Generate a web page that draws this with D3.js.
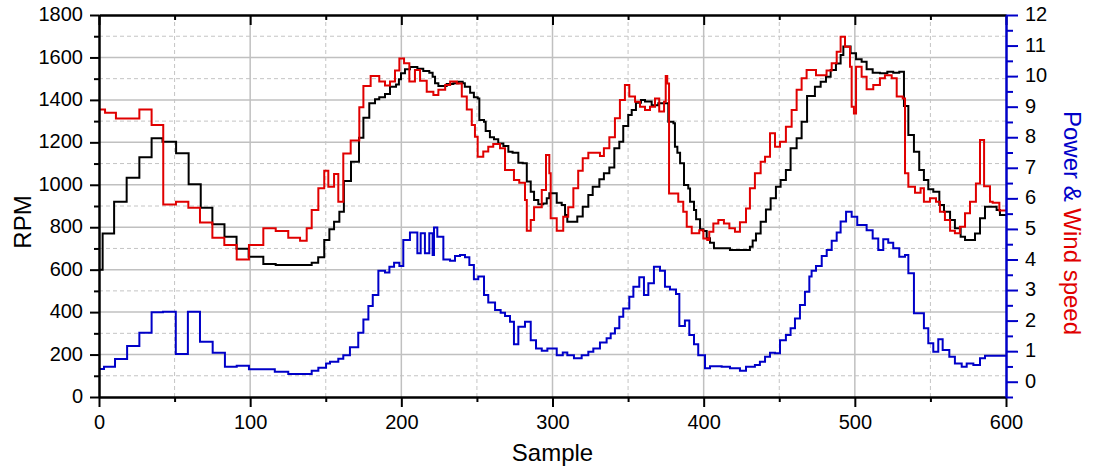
<!DOCTYPE html>
<html><head><meta charset="utf-8">
<script src="https://cdn.jsdelivr.net/npm/d3@7/dist/d3.min.js"></script>
<style>
html,body{margin:0;padding:0;background:#fff;}
svg{display:block;font-family:"Liberation Sans",Arial,sans-serif;}
</style></head>
<body>
<svg id="chart" width="1101" height="467"></svg>
<script>
// ---- Data ----
const rpmX = [0,2.4,10,18.3,26.7,34.8,42,51,59.3,67.3,75,83,91,99,108.7,116.9,140.7,145,149,152.4,155.5,159,162,166.7,172,174.9,178.8,182.6,185.4,189.2,192.5,196.5,198.4,199.8,202.4,205.7,210.6,214.5,218.5,220.7,222.3,224.5,230,234.4,237.7,240.6,242,245.5,248,250.5,251.6,254.7,255.8,258.6,261.3,264.1,267.5,270.8,273.6,277.4,280.3,283,285.6,287.8,290.6,293.9,296.2,297.9,302.8,306.1,308.3,309.8,316.4,320,323.7,326.6,331,334,337.6,340.9,344.2,346.8,350.1,352.4,355.2,358.5,361.2,365.6,370,376.6,380,381,382.6,384.4,387,389.8,391,393.6,395,397.6,399.8,402,404.2,406.8,417.4,430.6,432.4,434.6,437.7,441.2,444.3,447.8,450.9,454.4,457.5,461.5,464.8,468.4,473.6,477.4,480.9,484,487.5,490.6,492.4,497.2,500.8,504.5,507.8,511.8,516.6,521.5,525.4,529.4,532.5,535.4,539.1,542.6,545.7,548.6,551.9,555.9,559,563,566.2,570,572.9,579.5,582.8,586.1,593.8,596,600];
const rpmY = [600,770,920,1033,1130,1219,1203,1148,1002,892,814,755,699,661,627,622,633,658,740,790,826,873,1018,1109,1222,1316,1384,1403,1412,1428,1462,1473,1497,1525,1544,1555,1547,1536,1528,1509,1478,1465,1475,1478,1486,1478,1462,1434,1412,1407,1305,1297,1253,1224,1214,1195,1183,1156,1151,1104,1101,1015,967,928,908,912,936,960,915,905,858,826,850,897,952,991,1026,1054,1082,1172,1203,1277,1329,1352,1387,1400,1392,1375,1384,1297,1290,1179,1151,1101,999,983,920,881,837,790,782,748,727,701,693,708,737,771,826,884,936,991,1023,1070,1172,1219,1297,1418,1462,1486,1509,1541,1572,1612,1651,1620,1591,1580,1544,1528,1525,1533,1528,1533,1371,1235,1156,1070,1023,979,967,905,873,834,795,755,740,771,842,897,881,858,858];

const windX = [0,4,11.2,26.7,34.8,42.5,50.9,59.1,66.8,75,82.9,91.1,99.2,108.7,116.9,125.2,133,137.4,140.7,145.1,149,151.7,155.5,158.3,161.6,166.5,172.2,174.9,179.7,185.4,189.2,192.5,195.8,198.7,201.8,205.3,209,212.4,216.8,221.2,224.5,229,232.3,236.7,240,243.3,246.6,248.7,250.5,254.2,257.5,260.8,265.3,268.6,274.5,278,281.8,283,285.6,287.8,292.9,295.7,297.9,298.8,302.8,307.1,310.4,313.8,317,320,323.7,331.4,334,337.6,341.3,344.6,347.9,350.8,354.6,357.9,361.2,364.5,367.8,370.6,373.8,374.9,375.9,377.1,383.2,386.5,388.8,392.1,397.1,399.8,402.4,403.7,406.4,409.7,413.4,417,420.7,424,428,430.6,433.9,437.7,440.6,443.9,447.2,450.5,454.4,458.2,461.5,464.8,468.1,474.3,481.3,484.7,488,490.6,493.5,496.8,497.9,499.4,500.8,504.5,507.8,512.2,516.6,519.9,524.4,527.7,531.7,533.2,535.4,539.8,543.5,545.7,549.7,553.7,556.3,559.6,563,566.2,569.5,572.9,576.2,580.1,582.8,585.5,589.4,591.2,595.6,600];
const windY = [8.91,8.80,8.61,8.91,8.40,5.80,5.89,5.69,5.21,4.71,4.47,4.00,4.47,5.02,4.93,4.71,4.61,5.02,5.62,6.33,6.90,6.38,6.80,5.89,7.47,7.89,8.98,9.68,10.0,9.82,9.69,9.82,10.18,10.58,10.42,9.82,10.2,9.85,9.49,9.38,9.55,9.71,9.82,9.76,9.33,8.91,8.40,8.02,7.36,7.53,7.69,7.78,7.64,6.93,6.60,6.51,5.95,4.94,5.29,5.71,6.27,7.42,6.82,5.35,4.94,5.40,5.71,6.33,6.90,7.31,7.49,7.39,7.64,8.00,8.62,9.22,9.71,9.33,9.16,9.00,8.89,9.00,9.27,8.84,9.16,10.0,9.76,6.16,5.89,5.56,5.07,4.86,4.96,4.69,4.64,4.91,5.18,5.29,5.18,5.02,4.91,5.22,5.67,6.33,6.82,7.20,7.36,8.13,7.69,7.85,8.34,8.89,9.55,9.93,10.2,10.03,10.18,10.42,10.80,11.29,10.96,10.31,9.00,8.78,10.31,9.98,9.57,9.71,9.93,10.03,9.93,9.33,9.27,6.82,6.38,6.18,6.33,5.89,6.00,5.89,5.56,5.29,4.94,4.86,5.07,5.51,5.89,6.49,7.91,6.40,5.89,5.86,5.60,5.60];

const powerX = [0,3.3,10.6,18.6,26.7,34.8,42.3,50.8,58.8,66.8,75.2,83.3,91.1,99.2,116.3,125.2,140.7,145.1,150.2,152.8,158.3,161.6,166,171.5,174.9,178.2,181.1,184.8,189.2,192.1,195.2,198.7,201.3,205.7,210.6,212.8,215.6,218.5,220.7,221.6,223.8,227.8,232.2,235.5,238.8,242.1,245,248,250.9,254.7,257.5,262,265.7,268.6,271.9,274.5,277.4,281.8,285.6,289.1,292.9,296.6,302.8,306.8,309.8,314.2,319.3,323.7,327,331.4,335.8,338.5,341.3,344.2,346.8,350.8,353.5,357.4,360.5,363.4,367.1,371.1,374.4,377.7,381.7,383.9,387.6,390.5,393.6,396.4,400.9,404.2,411.9,417.4,424,428,433.9,437.2,440.6,443.9,447.2,450.5,454.4,457.5,460.4,463.7,467,469.9,471.4,474.3,478.1,481.4,484.7,488,490.6,494.2,497.9,501.6,507.8,511.8,515.5,518.8,522.1,525.4,529.4,533.2,535.4,539.1,545.7,548.6,551.9,555.2,558.1,562.5,566.2,570.7,574,578.4,582.8,586.1,600];
const powerY = [0.42,0.49,0.74,1.17,1.60,2.27,2.29,0.91,2.29,1.31,0.95,0.49,0.52,0.41,0.33,0.25,0.36,0.46,0.60,0.65,0.75,0.87,1.13,1.60,2.04,2.48,2.84,3.63,3.57,3.76,3.89,3.79,4.64,4.88,4.20,4.86,4.20,4.86,4.15,5.05,4.74,4.00,3.96,4.11,4.15,4.07,3.82,3.35,3.44,2.84,2.59,2.35,2.26,2.15,1.96,1.23,1.80,1.96,1.36,1.09,1.01,1.09,0.87,0.96,0.87,0.77,0.87,0.98,1.09,1.28,1.42,1.58,1.75,2.13,2.40,2.78,3.11,3.42,2.84,3.22,3.76,3.63,3.11,3.02,2.87,1.82,2.00,1.53,1.23,0.87,0.44,0.51,0.49,0.44,0.36,0.49,0.55,0.65,0.82,0.95,0.93,1.36,1.53,1.75,2.07,2.51,2.94,3.44,3.63,3.79,4.11,4.31,4.61,4.88,5.24,5.56,5.40,5.13,4.96,4.69,4.31,4.66,4.55,4.37,4.09,4.15,3.55,2.24,1.75,1.26,0.98,1.39,1.04,0.82,0.60,0.49,0.60,0.55,0.77,0.85,0.85];

const xMajor = [0,100,200,300,400,500,600];
const xMinor = [50,150,250,350,450,550];
const yMajor = [0,200,400,600,800,1000,1200,1400,1600,1800];
const yMinor = [100,300,500,700,900,1100,1300,1500,1700];
const rMajor = [0,1,2,3,4,5,6,7,8,9,10,11,12];
const rMinor = [-0.5,0.5,1.5,2.5,3.5,4.5,5.5,6.5,7.5,8.5,9.5,10.5,11.5];

// ---- Layout ----
const L = 99, R = 1006, T = 15, B = 397;
const BLUE = "#0000c8", RED = "#e00000";
const svg = d3.select("#chart");
const x = d3.scaleLinear().domain([0, 600]).range([L, R]);
const yL = d3.scaleLinear().domain([0, 1800]).range([B, T]);
const yR = d3.scaleLinear().domain([-0.5, 12]).range([B, T]);

// grid
const grid = svg.append("g");
grid.selectAll(".hmaj").data(yMajor.slice(1, -1)).join("line")
  .attr("x1", L).attr("x2", R).attr("y1", d => yL(d)).attr("y2", d => yL(d))
  .attr("stroke", "#c0c0c0").attr("stroke-width", 1.5);
grid.selectAll(".hmin").data(yMinor).join("line")
  .attr("x1", L).attr("x2", R).attr("y1", d => yL(d)).attr("y2", d => yL(d))
  .attr("stroke", "#c4c4c4").attr("stroke-width", 1).attr("stroke-dasharray", "4,3");
grid.selectAll(".vmaj").data(xMajor.slice(1, -1)).join("line")
  .attr("y1", T).attr("y2", B).attr("x1", d => x(d)).attr("x2", d => x(d))
  .attr("stroke", "#c0c0c0").attr("stroke-width", 1.5);
grid.selectAll(".vmin").data(xMinor).join("line")
  .attr("y1", T).attr("y2", B).attr("x1", d => x(d)).attr("x2", d => x(d))
  .attr("stroke", "#c4c4c4").attr("stroke-width", 1).attr("stroke-dasharray", "4,3");

// lines
svg.append("clipPath").attr("id", "clip").append("rect")
  .attr("x", L).attr("y", T).attr("width", R - L).attr("height", B - T);
const plot = svg.append("g").attr("clip-path", "url(#clip)");
function drawSeries(xs, ys, yScale, color) {
  const pts = xs.map((d, i) => [d, ys[i]]);
  const line = d3.line().x(d => x(d[0])).y(d => yScale(d[1])).curve(d3.curveStepAfter);
  plot.append("path").datum(pts).attr("d", line)
    .attr("fill", "none").attr("stroke", color).attr("stroke-width", 2)
    .attr("stroke-linejoin", "miter");
}
drawSeries(rpmX, rpmY, yL, "#000");
drawSeries(windX, windY, yR, RED);
drawSeries(powerX, powerY, yR, BLUE);

// axes
function styleAxis(g, color, fs) {
  g.selectAll("path.domain").attr("stroke", color).attr("stroke-width", 2.5);
  g.selectAll(".tick line").attr("stroke", color).attr("stroke-width", 2);
  g.selectAll(".tick text").attr("fill", "#000").style("font-size", fs + "px")
    .style("font-family", '"Liberation Sans", Arial, sans-serif');
}
// left
const gl = svg.append("g").attr("transform", `translate(${L},0)`)
  .call(d3.axisLeft(yL).tickValues(yMajor).tickSize(9).tickSizeOuter(0).tickPadding(7).tickFormat(d3.format("d")));
styleAxis(gl, "#000", 20);
gl.selectAll(".tick text").attr("dy", "0.28em");
const glm = svg.append("g").attr("transform", `translate(${L},0)`)
  .call(d3.axisLeft(yL).tickValues(yMinor).tickSize(5).tickSizeOuter(0).tickFormat(""));
styleAxis(glm, "#000", 20); glm.select("path.domain").remove();
// bottom
const gb = svg.append("g").attr("transform", `translate(0,${B})`)
  .call(d3.axisBottom(x).tickValues(xMajor).tickSize(10).tickSizeOuter(0).tickPadding(8).tickFormat(d3.format("d")));
styleAxis(gb, "#000", 20);
const gbm = svg.append("g").attr("transform", `translate(0,${B})`)
  .call(d3.axisBottom(x).tickValues(xMinor).tickSize(5).tickSizeOuter(0).tickFormat(""));
styleAxis(gbm, "#000", 20); gbm.select("path.domain").remove();
// top (inward ticks)
const gt = svg.append("g").attr("transform", `translate(0,${T})`)
  .call(d3.axisTop(x).tickValues(xMajor).tickSize(-10).tickSizeOuter(0).tickFormat(""));
styleAxis(gt, "#000", 20);
const gtm = svg.append("g").attr("transform", `translate(0,${T})`)
  .call(d3.axisTop(x).tickValues(xMinor).tickSize(-5).tickSizeOuter(0).tickFormat(""));
styleAxis(gtm, "#000", 20); gtm.select("path.domain").remove();
// right
const gr = svg.append("g").attr("transform", `translate(${R},0)`)
  .call(d3.axisRight(yR).tickValues(rMajor).tickSize(12).tickSizeOuter(0).tickPadding(7).tickFormat(d3.format("d")));
styleAxis(gr, BLUE, 20);
gr.selectAll(".tick text").attr("dy", "0.28em");
const grm = svg.append("g").attr("transform", `translate(${R},0)`)
  .call(d3.axisRight(yR).tickValues(rMinor).tickSize(7).tickSizeOuter(0).tickFormat(""));
styleAxis(grm, BLUE, 20); grm.select("path.domain").remove();

// titles
svg.append("text").attr("transform", `translate(31,222) rotate(-90)`)
  .attr("text-anchor", "middle").style("font-size", "24px").attr("fill", "#000").text("RPM");
svg.append("text").attr("x", (L + R) / 2).attr("y", 461)
  .attr("text-anchor", "middle").style("font-size", "24px").attr("fill", "#000").text("Sample");
const rt = svg.append("text").attr("transform", `translate(1064,223) rotate(90)`)
  .attr("text-anchor", "middle").style("font-size", "24px");
rt.append("tspan").attr("fill", BLUE).text("Power & ");
rt.append("tspan").attr("fill", RED).text("Wind speed");
</script>
</body></html>
